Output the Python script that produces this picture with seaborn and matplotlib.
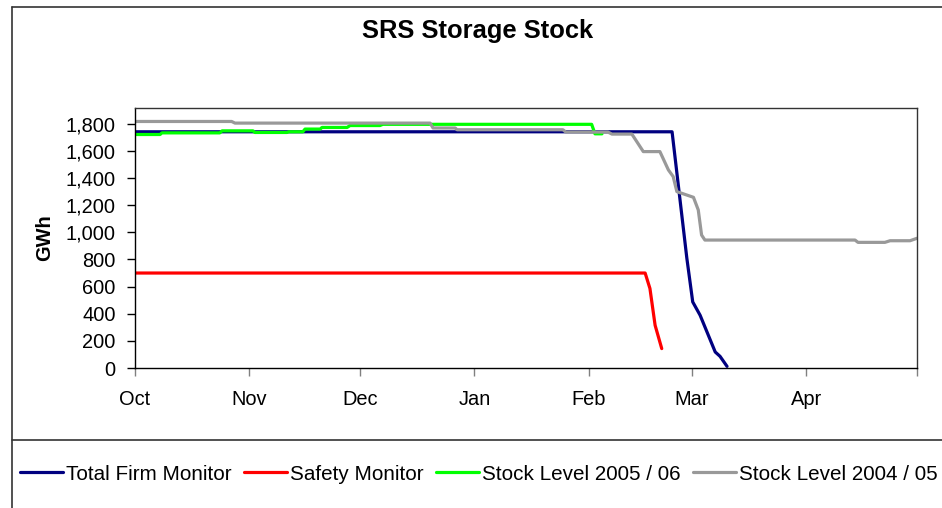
import matplotlib
matplotlib.use("Agg")
import matplotlib.pyplot as plt
import matplotlib.ticker as mticker
from matplotlib.lines import Line2D
import pandas as pd
import seaborn as sns

# Days counted from 1 Oct, values in GWh
firm_days = [0, 145.6, 149.6, 151.2, 153.2, 157.3, 158.6, 160.5]
firm_gwh = [1741, 1741, 810, 487, 389, 118, 86, 12]

safety_days = [0, 138.3, 139.6, 141.0, 142.8]
safety_gwh = [700, 700, 586, 315, 143]

stock0506_days = [0, 6.8, 7.3, 23.0, 23.6, 32.0, 32.5, 41.2, 41.7, 45.5, 46.1,
                  50.2, 50.7, 57.5, 58.3, 66.4, 67.2, 123.8, 124.7, 126.6]
stock0506_gwh = [1721, 1721, 1733, 1733, 1748, 1748, 1736, 1736, 1741, 1741, 1761,
                 1761, 1773, 1773, 1787, 1787, 1796, 1796, 1726, 1726]

stock0405_days = [0, 26.2, 27.1, 80.0, 80.8, 86.8, 87.3, 116.0, 116.8, 128.2, 129.3,
                  134.7, 137.8, 142.3, 144.6, 145.9, 146.9, 151.4, 152.7, 153.6,
                  154.5, 195.2, 196.0, 203.3, 204.7, 210.1, 212.0]
stock0405_gwh = [1817, 1817, 1805, 1805, 1769, 1769, 1756, 1756, 1739, 1739, 1724,
                 1724, 1595, 1595, 1460, 1411, 1300, 1258, 1165, 980,
                 943, 943, 926, 926, 938, 938, 956]

month_days = [0, 31, 61, 92, 123, 151, 182, 212]
month_labels = ["Oct", "Nov", "Dec", "Jan", "Feb", "Mar", "Apr", ""]

series = [
    ("Total Firm Monitor", firm_days, firm_gwh, "#000080"),
    ("Safety Monitor", safety_days, safety_gwh, "#FF0000"),
    ("Stock Level 2005 / 06", stock0506_days, stock0506_gwh, "#00FF00"),
    ("Stock Level 2004 / 05", stock0405_days, stock0405_gwh, "#999999"),
]

sns.set_theme(style="white")
plt.rcParams["font.family"] = ["Liberation Sans", "DejaVu Sans"]
plt.rcParams["text.color"] = "black"
plt.rcParams["axes.labelcolor"] = "black"
plt.rcParams["xtick.color"] = "black"
plt.rcParams["ytick.color"] = "black"

fig = plt.figure(figsize=(9.42, 5.08), dpi=100)
ax = fig.add_axes([135 / 942, 1 - 368 / 508, 782 / 942, 260.5 / 508])

for name, days, gwh, col in series:
    df = pd.DataFrame({"day": days, "gwh": gwh})
    sns.lineplot(data=df, x="day", y="gwh", ax=ax, color=col, linewidth=2.3,
                 label=name, estimator=None, sort=False)

ax.set_xlim(0, 212)
ax.set_ylim(0, 1920)
ax.set_yticks(range(0, 1801, 200))
ax.yaxis.set_major_formatter(mticker.StrMethodFormatter("{x:,.0f}"))
ax.set_xticks(month_days)
ax.set_xticklabels(month_labels)

ax.tick_params(axis="y", direction="out", length=6, width=1, color="black",
               labelcolor="black", labelsize=14.4, pad=8, left=True)
ax.tick_params(axis="x", direction="out", length=6, width=1, color="#808080",
               labelcolor="black", labelsize=14.4, pad=10, bottom=True)
for s in ["left", "bottom"]:
    ax.spines[s].set_color("black")
for s in ["top", "right"]:
    ax.spines[s].set_color("#333333")
for s in ax.spines.values():
    s.set_linewidth(1)

ax.set_xlabel("")
ax.set_ylabel("GWh", fontsize=14.4, fontweight="bold", color="black")
ax.yaxis.set_label_coords(-0.103, 0.5)

fig.text(478 / 942, 1 - 31 / 508, "SRS Storage Stock", ha="center", va="center",
         fontsize=18.4, fontweight="bold", color="black")

ax.get_legend().remove()
handles, labels = ax.get_legend_handles_labels()
fig.legend(handles, labels, loc="center left", bbox_to_anchor=(20 / 942, 1 - 474 / 508),
           ncol=4, frameon=False, fontsize=14.9, handlelength=2.1,
           handletextpad=0.14, columnspacing=0.58, borderpad=0, borderaxespad=0)

# chart border lines
fc = "#333333"
fig.add_artist(Line2D([12 / 942, 12 / 942], [0, 1 - 7 / 508], color=fc, lw=1.2))
fig.add_artist(Line2D([12 / 942, 1], [1 - 7 / 508, 1 - 7 / 508], color=fc, lw=1.2))
fig.add_artist(Line2D([12 / 942, 1], [1 - 440 / 508, 1 - 440 / 508], color=fc, lw=1.2))

fig.savefig("out.png", dpi=100)
